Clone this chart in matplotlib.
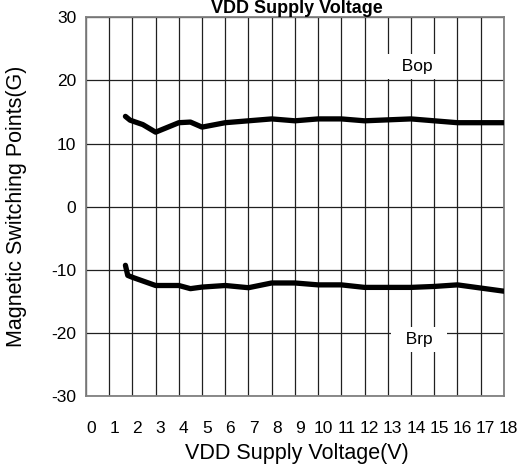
import matplotlib.pyplot as plt
import matplotlib.transforms as mtransforms

plt.rcParams['font.family'] = ['Liberation Sans', 'DejaVu Sans']
plt.rcParams['axes.unicode_minus'] = False

# Bop (operate point) and Brp (release point) vs supply voltage
bop_v = [1.7, 1.9, 2.45, 3.0, 4.0, 4.5, 5.0, 6.0, 7.0, 8.0, 9.0, 10.0, 11.0,
         12.0, 13.0, 14.0, 15.0, 16.0, 17.0, 18.0]
bop_g = [14.3, 13.7, 13.0, 11.8, 13.3, 13.4, 12.6, 13.3, 13.6, 13.9, 13.6,
         13.9, 13.9, 13.6, 13.75, 13.9, 13.6, 13.3, 13.3, 13.3]

brp_v = [1.7, 1.8, 2.0, 3.0, 4.0, 4.5, 5.0, 6.0, 7.0, 8.0, 9.0, 10.0, 11.0,
         12.0, 13.0, 14.0, 15.0, 16.0, 17.0, 18.0]
brp_g = [-9.3, -10.9, -11.2, -12.5, -12.5, -13.0, -12.75, -12.5, -12.85,
         -12.1, -12.1, -12.4, -12.4, -12.8, -12.8, -12.8, -12.65, -12.4,
         -12.9, -13.4]

x_ticks = list(range(0, 19))
y_ticks = [-30, -20, -10, 0, 10, 20, 30]

fig = plt.figure(figsize=(5.21, 4.68), dpi=100)
ax = fig.add_axes([0.165, 0.154, 0.802, 0.809])

ax.plot(bop_v, bop_g, color='black', lw=3.8, solid_capstyle='round', zorder=3)
ax.plot(brp_v, brp_g, color='black', lw=3.8, solid_capstyle='round', zorder=3)

ax.set_xlim(0, 18)
ax.set_ylim(-30, 30)
ax.set_xticks(x_ticks)
ax.set_yticks(y_ticks)
ax.grid(True, color='#202020', lw=0.9)
ax.set_axisbelow(True)
for s in ax.spines.values():
    s.set_color('#808080')
    s.set_linewidth(1.3)

ax.tick_params(axis='x', length=0, pad=18, labelsize=12.5)
ax.tick_params(axis='y', length=0, pad=7, labelsize=12.5)
shift = mtransforms.ScaledTranslation(5 / 100, 0, fig.dpi_scale_trans)
for lbl in ax.get_xticklabels():
    lbl.set_transform(lbl.get_transform() + shift)

ax.set_xlabel('VDD Supply Voltage(V)', fontsize=15.5)
ax.set_ylabel('Magnetic Switching Points(G)', fontsize=15.5)
ax.xaxis.set_label_coords(0.505, -0.125)
ax.yaxis.set_label_coords(-0.14, 0.5)
fig.text(0.57, 0.999, 'VDD Supply Voltage', ha='center', va='top',
         fontsize=13, fontweight='bold')

box = dict(facecolor='white', edgecolor='none', boxstyle='square,pad=0.3')
ax.text(14.25, 22.2, '  Bop  ', ha='center', va='center', fontsize=12.5, bbox=box)
ax.text(14.35, -21.1, '  Brp  ', ha='center', va='center', fontsize=12.5, bbox=box)

fig.savefig('out.png', dpi=100)
